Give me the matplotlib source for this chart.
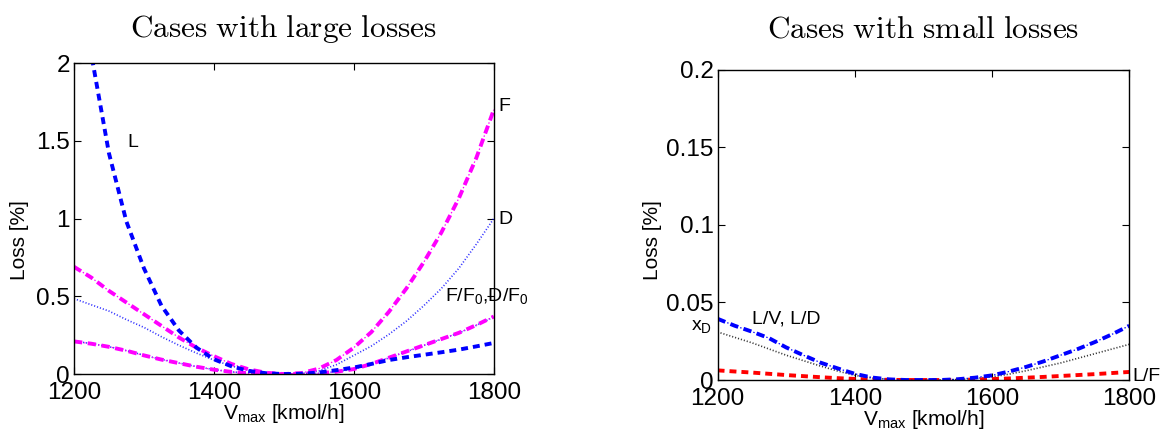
import matplotlib
matplotlib.use("Agg")
import matplotlib.pyplot as plt
from matplotlib.ticker import FuncFormatter

plt.rcParams['font.family'] = ['Liberation Sans', 'DejaVu Sans']
plt.rcParams['mathtext.fontset'] = 'custom'
plt.rcParams['mathtext.rm'] = 'Liberation Sans'
plt.rcParams['mathtext.it'] = 'Liberation Sans:italic'
plt.rcParams['mathtext.bf'] = 'Liberation Sans:bold'
plt.rcParams['lines.scale_dashes'] = False

# V_max grid [kmol/h]
vmax = [1200, 1225, 1250, 1275, 1300, 1325, 1350, 1375, 1400, 1425, 1450, 1475, 1500,
        1525, 1550, 1575, 1600, 1625, 1650, 1675, 1700, 1725, 1750, 1775, 1800]

# large-loss cases, loss in %
lossL = [3.2, 2.05, 1.42, 0.98, 0.68, 0.44, 0.28, 0.17, 0.095, 0.05, 0.02, 0.005, 0.0,
         0.002, 0.01, 0.025, 0.042, 0.065, 0.09, 0.108, 0.124, 0.14, 0.157, 0.178, 0.2]
lossF = [0.69, 0.62, 0.535, 0.46, 0.385, 0.31, 0.235, 0.17, 0.115, 0.065, 0.03, 0.008, 0.0,
         0.006, 0.035, 0.09, 0.17, 0.27, 0.4, 0.55, 0.72, 0.91, 1.13, 1.39, 1.7]
lossD = [0.485, 0.445, 0.405, 0.35, 0.3, 0.24, 0.185, 0.135, 0.09, 0.052, 0.022, 0.006, 0.0,
         0.004, 0.02, 0.06, 0.12, 0.18, 0.255, 0.34, 0.44, 0.55, 0.68, 0.835, 1.0]
lossFF0 = [0.21, 0.195, 0.175, 0.15, 0.12, 0.093, 0.07, 0.047, 0.028, 0.014, 0.005, 0.001, 0.0,
           0.0, 0.005, 0.015, 0.032, 0.065, 0.105, 0.145, 0.185, 0.225, 0.265, 0.315, 0.37]
lossDF0 = [0.212, 0.196, 0.176, 0.151, 0.121, 0.094, 0.071, 0.048, 0.029, 0.014, 0.005, 0.001, 0.0,
           0.0, 0.005, 0.015, 0.032, 0.064, 0.104, 0.144, 0.184, 0.224, 0.264, 0.313, 0.368]

# small-loss cases, loss in %
lossLV = [0.0395, 0.035, 0.0312, 0.027, 0.021, 0.016, 0.0112, 0.0075, 0.004, 0.0016, 0.0004, 0.0, 0.0,
          0.0, 0.0005, 0.0015, 0.003, 0.0055, 0.0085, 0.012, 0.016, 0.02, 0.0245, 0.0295, 0.035]
lossXD = [0.031, 0.0275, 0.024, 0.02, 0.016, 0.0125, 0.009, 0.0058, 0.003, 0.0013, 0.0004, 0.0, 0.0,
          0.0, 0.0003, 0.001, 0.002, 0.0038, 0.006, 0.0085, 0.011, 0.014, 0.017, 0.02, 0.023]
lossLF = [0.0062, 0.0055, 0.0048, 0.004, 0.0032, 0.0025, 0.0018, 0.0012, 0.0007, 0.0003, 0.0001, 0.0, 0.0,
          0.0, 0.0001, 0.0003, 0.0006, 0.001, 0.0015, 0.002, 0.0026, 0.0032, 0.0038, 0.0045, 0.0052]

xTicks = [1200, 1400, 1600, 1800]
yTicksLarge = [0, 0.5, 1, 1.5, 2]
yTicksSmall = [0, 0.05, 0.1, 0.15, 0.2]

TICK_SIZE = 17.5
LABEL_SIZE = 15
NOTE_SIZE = 14


def dashed(ax, x, y, color):
    ax.plot(x, y, color=color, lw=2.8, linestyle=(0, (5, 3.6)))


def dashDot(ax, x, y, color):
    # thick dashes with a thin dot in each gap
    ax.plot(x, y, color=color, lw=2.8, linestyle=(0, (6, 4)))
    ax.plot(x, y, color=color, lw=0.9, linestyle=(2.5, (1, 9)))


def dotted(ax, x, y, color):
    ax.plot(x, y, color=color, lw=1.2, linestyle=(0, (0.8, 1.4)), alpha=0.8)


def styleAxes(ax, yTicks, ylim):
    ax.set_xlim(1200, 1800)
    ax.set_ylim(*ylim)
    ax.set_xticks(xTicks)
    ax.set_yticks(yTicks)
    ax.yaxis.set_major_formatter(FuncFormatter(lambda v, p: '%g' % v))
    ax.tick_params(direction='in', top=True, right=True, length=5, width=0.8,
                   labelsize=TICK_SIZE)
    ax.tick_params(axis='x', pad=6)
    ax.tick_params(axis='y', pad=3)
    for s in ax.spines.values():
        s.set_linewidth(1.0)
    ax.set_xlabel(r'V$_{\rm max}$ [kmol/h]', fontsize=LABEL_SIZE)
    ax.set_ylabel('Loss [%]', fontsize=LABEL_SIZE)


fig = plt.figure(figsize=(11.63, 4.38), dpi=100)
axL = fig.add_axes([0.0636, 0.146, 0.361, 0.710])
axS = fig.add_axes([0.617, 0.1324, 0.354, 0.708])

# large losses
dotted(axL, vmax, lossD, 'blue')
dotted(axL, vmax, lossDF0, 'blue')
dashDot(axL, vmax, lossFF0, 'magenta')
dashDot(axL, vmax, lossF, 'magenta')
dashed(axL, vmax, lossL, 'blue')
styleAxes(axL, yTicksLarge, (0, 2))
axL.xaxis.set_label_coords(0.5, -0.09)
axL.yaxis.set_label_coords(-0.106, 0.43)

axL.text(1277, 1.49, 'L', fontsize=NOTE_SIZE, va='center')
axL.text(1807, 1.72, 'F', fontsize=NOTE_SIZE, va='center')
axL.text(1807, 0.995, 'D', fontsize=NOTE_SIZE, va='center')
axL.text(1730, 0.5, r'F/F$_0$,D/F$_0$', fontsize=NOTE_SIZE, va='center')

# small losses
dotted(axS, vmax, lossXD, 'black')
dashed(axS, vmax, lossLF, 'red')
dashDot(axS, vmax, lossLV, 'blue')
styleAxes(axS, yTicksSmall, (0, 0.2))
axS.xaxis.set_label_coords(0.5, -0.09)
axS.yaxis.set_label_coords(-0.136, 0.45)

axS.text(1250, 0.0395, 'L/V, L/D', fontsize=NOTE_SIZE, va='center')
axS.text(1161, 0.0345, r'x$_{\rm D}$', fontsize=NOTE_SIZE, va='center')
axS.text(1805, 0.002, 'L/F', fontsize=NOTE_SIZE, va='center')

for ax, title in [(axL, 'Cases with large losses'), (axS, 'Cases with small losses')]:
    pos = ax.get_position()
    fig.text((pos.x0 + pos.x1) / 2, 1 - 37 / 438, r'$\mathrm{' + title.replace(' ', r'\ ') + '}$',
             ha='center', va='baseline', fontsize=22.5, math_fontfamily='cm')

fig.savefig('out.png', dpi=100)
